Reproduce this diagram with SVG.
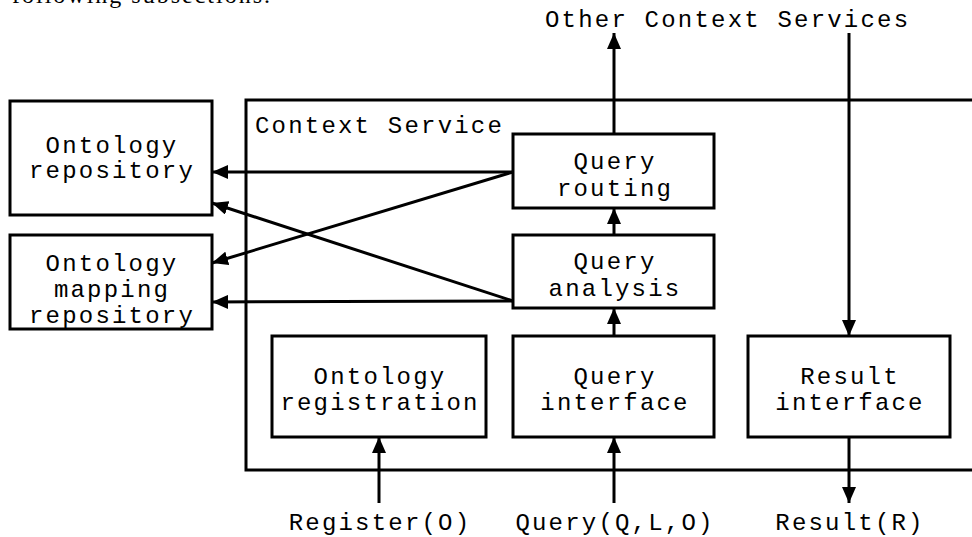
<svg xmlns="http://www.w3.org/2000/svg" width="972" height="537" viewBox="0 0 972 537">
<style>
  .box { fill: #fff; stroke: #000; stroke-width: 3; }
  .outer { fill: none; stroke: #000; stroke-width: 3; }
  .t { font-family: "Courier New", "Liberation Mono", monospace; font-size: 24px; letter-spacing: 2.2px; fill: #000; }
  .c { text-anchor: middle; }
  .ln { fill: none; stroke: #000; stroke-width: 3; marker-end: url(#ah); }
  .cap { font-family: "Liberation Serif", serif; font-size: 24px; fill: #000; }
</style>
<defs>
  <marker id="ah" markerUnits="userSpaceOnUse" markerWidth="18" markerHeight="14" refX="16" refY="7" orient="auto">
    <path d="M0,0 L16,7 L0,14 Z" fill="#000"/>
  </marker>
</defs>
<rect width="972" height="537" fill="#fff"/>
<text class="cap" x="12" y="3" textLength="258">following subsections.</text>

<g id="context-service">
  <rect class="outer" x="246" y="100" width="740" height="370"/>
  <text class="t" x="255" y="133">Context Service</text>
</g>

<g id="other-services">
  <text class="t" x="545" y="27">Other Context Services</text>
</g>

<g id="ontology-repository">
  <rect class="box" x="10" y="101" width="202" height="114"/>
  <text class="t c" x="112" y="153">Ontology</text>
  <text class="t c" x="112" y="178">repository</text>
</g>

<g id="ontology-mapping-repository">
  <rect class="box" x="10" y="235" width="202" height="94"/>
  <text class="t c" x="112" y="271">Ontology</text>
  <text class="t c" x="112" y="297">mapping</text>
  <text class="t c" x="112" y="323">repository</text>
</g>

<g id="query-routing">
  <rect class="box" x="513" y="134" width="201" height="74"/>
  <text class="t c" x="615" y="169">Query</text>
  <text class="t c" x="615" y="196">routing</text>
</g>

<g id="query-analysis">
  <rect class="box" x="513" y="235" width="201" height="73"/>
  <text class="t c" x="615" y="269">Query</text>
  <text class="t c" x="615" y="296">analysis</text>
</g>

<g id="ontology-registration">
  <rect class="box" x="272" y="336" width="214" height="101"/>
  <text class="t c" x="380" y="384">Ontology</text>
  <text class="t c" x="380" y="410">registration</text>
</g>

<g id="query-interface">
  <rect class="box" x="513" y="336" width="201" height="101"/>
  <text class="t c" x="615" y="384">Query</text>
  <text class="t c" x="615" y="410">interface</text>
</g>

<g id="result-interface">
  <rect class="box" x="748" y="336" width="202" height="101"/>
  <text class="t c" x="850" y="384">Result</text>
  <text class="t c" x="850" y="410">interface</text>
</g>

<g id="labels">
  <text class="t c" x="380" y="530">Register(O)</text>
  <text class="t c" x="615" y="530">Query(Q,L,O)</text>
  <text class="t c" x="850" y="530">Result(R)</text>
</g>

<g id="connectors">
  <line class="ln" x1="614" y1="134" x2="614" y2="33"/>
  <line class="ln" x1="849" y1="33" x2="849" y2="336"/>
  <line class="ln" x1="513" y1="172" x2="212" y2="172"/>
  <line class="ln" x1="513" y1="172" x2="212" y2="263"/>
  <line class="ln" x1="513" y1="301" x2="212" y2="203"/>
  <line class="ln" x1="513" y1="301" x2="212" y2="302"/>
  <line class="ln" x1="614" y1="235" x2="614" y2="208"/>
  <line class="ln" x1="614" y1="336" x2="614" y2="308"/>
  <line class="ln" x1="379" y1="503" x2="379" y2="437"/>
  <line class="ln" x1="614" y1="503" x2="614" y2="437"/>
  <line class="ln" x1="849" y1="437" x2="849" y2="503"/>
</g>
</svg>
